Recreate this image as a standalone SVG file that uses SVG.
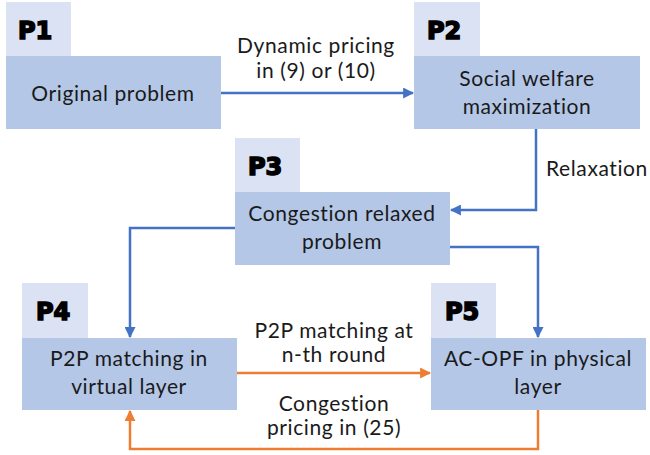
<svg xmlns="http://www.w3.org/2000/svg" width="650" height="455" viewBox="0 0 650 455">
<defs>
<style>
.tab{fill:#DAE2F3}
.box{fill:#B4C7E7}
.t{font-family:Lato,"Open Sans",sans-serif;font-size:21px;letter-spacing:0.6px;fill:#1a1a1a;text-anchor:middle}
.p{font-family:"DejaVu Sans",sans-serif;font-weight:bold;font-size:24px;fill:#000;stroke:#000;stroke-width:1.6}
.b{fill:none;stroke:#4472C4;stroke-width:2.5}
.o{fill:none;stroke:#ED7D31;stroke-width:2.5}
</style>
<marker id="ab" viewBox="0 0 10 10" refX="9" refY="5" markerWidth="4.4" markerHeight="4.4" orient="auto" markerUnits="strokeWidth"><path d="M0,0L10,5L0,10z" fill="#4472C4"/></marker>
<marker id="ao" viewBox="0 0 10 10" refX="9" refY="5" markerWidth="4.4" markerHeight="4.4" orient="auto" markerUnits="strokeWidth"><path d="M0,0L10,5L0,10z" fill="#ED7D31"/></marker>
</defs>
<rect width="650" height="455" fill="#fff"/>
<g id="connectors">
<path class="b" d="M221,93H413" marker-end="url(#ab)"/>
<path class="b" d="M536,129V210H451" marker-end="url(#ab)"/>
<path class="b" d="M235,228H130V337" marker-end="url(#ab)"/>
<path class="b" d="M450,247H538V337" marker-end="url(#ab)"/>
<path class="o" d="M237,373H430" marker-end="url(#ao)"/>
<path class="o" d="M538,410V449H130V411" marker-end="url(#ao)"/>
<text class="t" x="316" y="53">Dynamic pricing</text>
<text class="t" x="316" y="78">in (9) or (10)</text>
<text class="t" x="597" y="176">Relaxation</text>
<text class="t" x="334" y="338">P2P matching at</text>
<text class="t" x="334" y="362">n-th round</text>
<text class="t" x="334" y="411">Congestion</text>
<text class="t" x="334" y="435">pricing in (25)</text>
</g>
<g id="P1">
<rect class="tab" x="6" y="2" width="65" height="54"/>
<rect class="box" x="6" y="56" width="215" height="73"/>
<text class="p" x="18" y="39">P1</text>
<text class="t" x="113" y="101">Original problem</text>
</g>
<g id="P2">
<rect class="tab" x="414" y="2" width="66" height="54"/>
<rect class="box" x="414" y="56" width="226" height="73"/>
<text class="p" x="427" y="39">P2</text>
<text class="t" x="527" y="86">Social welfare</text>
<text class="t" x="527" y="114">maximization</text>
</g>
<g id="P3">
<rect class="tab" x="235" y="138" width="65" height="54"/>
<rect class="box" x="235" y="192" width="215" height="73"/>
<text class="p" x="248" y="175">P3</text>
<text class="t" x="342" y="221">Congestion relaxed</text>
<text class="t" x="342" y="249">problem</text>
</g>
<g id="P4">
<rect class="tab" x="22" y="283" width="66" height="55"/>
<rect class="box" x="22" y="338" width="215" height="72"/>
<text class="p" x="36" y="320">P4</text>
<text class="t" x="129" y="366">P2P matching in</text>
<text class="t" x="129" y="394">virtual layer</text>
</g>
<g id="P5">
<rect class="tab" x="431" y="283" width="65" height="55"/>
<rect class="box" x="431" y="338" width="215" height="72"/>
<text class="p" x="445" y="320">P5</text>
<text class="t" x="538" y="366">AC-OPF in physical</text>
<text class="t" x="538" y="394">layer</text>
</g>
</svg>
